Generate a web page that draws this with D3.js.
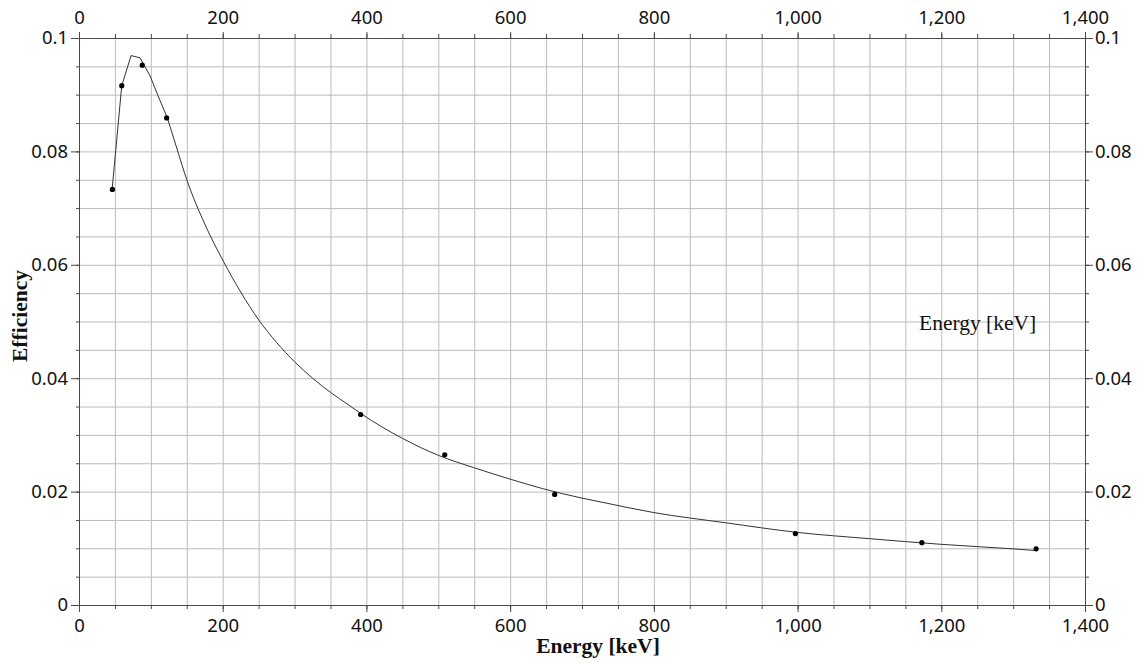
<!DOCTYPE html>
<html>
<head>
<meta charset="utf-8">
<script src="https://cdn.jsdelivr.net/npm/d3@7"></script>
<style>
  body { margin: 0; background: #fff; }
  svg { display: block; }
  .tick text { font-family: Tahoma, "Noto Sans", sans-serif; font-size: 18.5px; fill: #111; }
  .title { font-family: "Liberation Serif", "Times New Roman", serif; font-size: 21.5px; fill: #111; }
</style>
</head>
<body>
<svg id="chart" width="1144" height="664"></svg>
<script>
// measured points (keV, efficiency)
const pointEnergy = [46.5, 59.5, 88, 122, 392, 509, 662, 997, 1173, 1332];
const pointEff = [0.0733, 0.0916, 0.0952, 0.0859, 0.0336, 0.0265, 0.0195, 0.0126, 0.0110, 0.0099];

// fitted efficiency curve
const curveEnergy = [46, 59.5, 72.5, 85, 99, 110, 123, 136, 150, 175, 201, 225, 250, 275, 300, 325, 350, 375, 393,
    450, 500, 550, 600, 646, 700, 725, 800, 900, 1000, 1100, 1200, 1300, 1332];
const curveEff = [0.0732, 0.0916, 0.0969, 0.0965, 0.0933, 0.0898, 0.0859, 0.0806, 0.0750, 0.0672, 0.0606, 0.0552,
    0.0503, 0.0463, 0.0429, 0.0400, 0.0375, 0.0353, 0.0337, 0.0294, 0.0264, 0.0242, 0.0222, 0.0205, 0.01885, 0.0182,
    0.0163, 0.0145, 0.0128, 0.0117, 0.0107, 0.0099, 0.0096];

const xTicks = [0, 200, 400, 600, 800, 1000, 1200, 1400];
const yTicks = [0, 0.02, 0.04, 0.06, 0.08, 0.1];

const mLeft = 79, mRight = 1085, mTop = 38, mBottom = 605;

const svg = d3.select("#chart");

const x = d3.scaleLinear().domain([0, 1400]).range([mLeft, mRight]);
const y = d3.scaleLinear().domain([0, 0.1]).range([mBottom, mTop]);

const xMinor = d3.range(0, 1401, 50);
const yMinor = d3.range(0, 21).map(i => i * 0.005);

const fmtX = d3.format(",");
const fmtY = d3.format("~g");

// grid
svg.append("g").attr("class", "grid")
    .attr("transform", "translate(0," + mBottom + ")")
    .call(d3.axisBottom(x).tickValues(xMinor).tickSize(-(mBottom - mTop)).tickFormat(""))
    .call(g => g.select(".domain").remove())
    .call(g => g.selectAll("line").attr("stroke", "#bcbcbc"));

svg.append("g").attr("class", "grid")
    .attr("transform", "translate(" + mLeft + ",0)")
    .call(d3.axisLeft(y).tickValues(yMinor).tickSize(-(mRight - mLeft)).tickFormat(""))
    .call(g => g.select(".domain").remove())
    .call(g => g.selectAll("line").attr("stroke", "#bcbcbc"));

const axisColor = "#4a4a4a";

function styleAxis(g) {
    g.select(".domain").attr("stroke", axisColor);
    g.selectAll(".tick line").attr("stroke", axisColor);
}

// minor ticks
svg.append("g").attr("transform", "translate(0," + mBottom + ")")
    .call(d3.axisBottom(x).tickValues(xMinor).tickSize(4).tickSizeOuter(0).tickFormat(""))
    .call(styleAxis);
svg.append("g").attr("transform", "translate(0," + mTop + ")")
    .call(d3.axisTop(x).tickValues(xMinor).tickSize(4).tickSizeOuter(0).tickFormat(""))
    .call(styleAxis);
svg.append("g").attr("transform", "translate(" + mLeft + ",0)")
    .call(d3.axisLeft(y).tickValues(yMinor).tickSize(3).tickSizeOuter(0).tickFormat(""))
    .call(styleAxis);
svg.append("g").attr("transform", "translate(" + mRight + ",0)")
    .call(d3.axisRight(y).tickValues(yMinor).tickSize(4).tickSizeOuter(0).tickFormat(""))
    .call(styleAxis);

// major ticks with labels
svg.append("g").attr("transform", "translate(0," + mBottom + ")")
    .call(d3.axisBottom(x).tickValues(xTicks).tickSize(7).tickSizeOuter(0).tickPadding(7).tickFormat(fmtX))
    .call(styleAxis);
svg.append("g").attr("transform", "translate(0," + mTop + ")")
    .call(d3.axisTop(x).tickValues(xTicks).tickSize(6).tickSizeOuter(0).tickPadding(8).tickFormat(fmtX))
    .call(styleAxis);
svg.append("g").attr("transform", "translate(" + mLeft + ",0)")
    .call(d3.axisLeft(y).tickValues(yTicks).tickSize(8).tickSizeOuter(0).tickPadding(3).tickFormat(fmtY))
    .call(styleAxis);
svg.append("g").attr("transform", "translate(" + mRight + ",0)")
    .call(d3.axisRight(y).tickValues(yTicks).tickSize(8).tickSizeOuter(0).tickPadding(2).tickFormat(fmtY))
    .call(styleAxis);

svg.selectAll(".tick text").attr("font-size", null).attr("font-family", null);

// curve: straight segments over the peak, smooth fit afterwards
const curveData = curveEnergy.map((e, i) => [e, curveEff[i]]);
const split = curveEnergy.indexOf(123);
const linePeak = d3.line().x(d => x(d[0])).y(d => y(d[1]));
const lineTail = d3.line().curve(d3.curveMonotoneX).x(d => x(d[0])).y(d => y(d[1]));
svg.append("path")
    .attr("fill", "none")
    .attr("stroke", "#333")
    .attr("stroke-width", 1)
    .attr("d", linePeak(curveData.slice(0, split + 1)) + lineTail(curveData.slice(split)).replace(/^M[^C]*/, ""));

// points
svg.append("g").selectAll("circle")
    .data(pointEnergy.map((e, i) => [e, pointEff[i]]))
    .enter().append("circle")
    .attr("cx", d => x(d[0]))
    .attr("cy", d => y(d[1]))
    .attr("r", 2.6)
    .attr("fill", "#000");

// titles
svg.append("text").attr("class", "title")
    .attr("x", 598).attr("y", 653)
    .attr("text-anchor", "middle")
    .attr("font-weight", "bold")
    .text("Energy [keV]");

svg.append("text").attr("class", "title")
    .attr("transform", "translate(27,316) rotate(-90)")
    .attr("text-anchor", "middle")
    .attr("font-weight", "bold")
    .text("Efficiency");

svg.append("text").attr("class", "title")
    .attr("x", 919).attr("y", 330)
    .text("Energy [keV]");
</script>
</body>
</html>
